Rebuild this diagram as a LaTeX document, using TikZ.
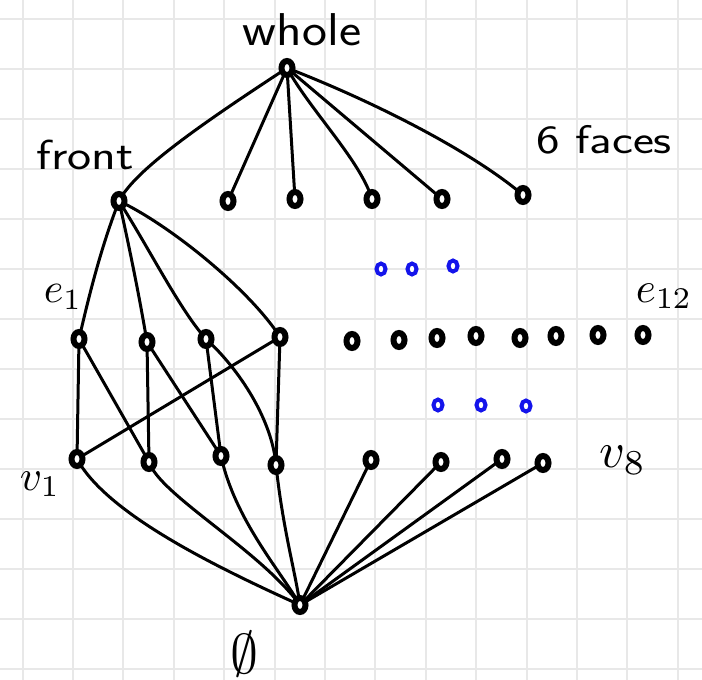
\documentclass[tikz,border=0pt]{standalone}
\usetikzlibrary{shapes.geometric}
\definecolor{gridgray}{RGB}{232,232,232}
\definecolor{inkblue}{RGB}{20,20,235}
\tikzset{
  gridline/.style={draw=gridgray, line width=2pt},
  dot/.style={ellipse, draw=black, fill=white, line width=6pt, minimum width=11pt, minimum height=14pt, inner sep=0pt},
  bdot/.style={ellipse, draw=inkblue, fill=white, line width=4pt, minimum width=9pt, minimum height=11pt, inner sep=0pt},
  ink/.style={draw=black, line width=3pt, line cap=round},
  lbl/.style={inner sep=0pt, font=\sffamily},
  mlbl/.style={inner sep=0pt},
}
\begin{document}
\begin{tikzpicture}[x=1pt, y=-1pt]
\useasboundingbox (0,0) rectangle (702,680);
\fill[white] (0,0) rectangle (702,680);
% grid
\foreach \k in {0,...,13} {
  \draw[gridline] ({22.6+50.4*\k},0) -- ({22.6+50.4*\k},680);
  \draw[gridline] (0,{19+50*\k}) -- (702,{19+50*\k});
}
% positions
\coordinate (W) at (287,68);
\coordinate (F) at (119,201);
\coordinate (f1) at (228,201);
\coordinate (f2) at (295,199);
\coordinate (f3) at (372,199);
\coordinate (f4) at (442,199);
\coordinate (f5) at (523,195);
\coordinate (e1) at (79,339);
\coordinate (e2) at (147,342);
\coordinate (e3) at (206,339);
\coordinate (e4) at (280,337);
\coordinate (v1) at (77,459);
\coordinate (v2) at (149,462);
\coordinate (v3) at (221,456);
\coordinate (v4) at (276,465);
\coordinate (v5) at (371,460);
\coordinate (v6) at (441,462);
\coordinate (v7) at (502,459);
\coordinate (v8) at (543,463);
\coordinate (E) at (300,605);
% whole -> faces
\draw[ink] (W) .. controls (200,125) and (135,170) .. (F);
\draw[ink] (W) -- (f1);
\draw[ink] (W) -- (f2);
\draw[ink] (W) .. controls (310,110) and (360,160) .. (f3);
\draw[ink] (W) -- (f4);
\draw[ink] (W) .. controls (370,100) and (470,150) .. (f5);
% front -> edges
\draw[ink] (F) .. controls (100,250) and (88,300) .. (e1);
\draw[ink] (F) .. controls (130,250) and (140,300) .. (e2);
\draw[ink] (F) .. controls (150,250) and (180,310) .. (e3);
\draw[ink] (F) .. controls (170,225) and (250,290) .. (e4);
% edges -> vertices
\draw[ink] (e1) -- (v1);
\draw[ink] (e1) -- (v2);
\draw[ink] (e2) -- (v2);
\draw[ink] (e2) -- (v3);
\draw[ink] (e3) -- (v3);
\draw[ink] (e3) .. controls (240,370) and (272,420) .. (v4);
\draw[ink] (e4) -- (v1);
\draw[ink] (e4) -- (v4);
% vertices -> empty
\draw[ink] (v1) .. controls (105,510) and (200,560) .. (E);
\draw[ink] (v2) .. controls (160,495) and (260,550) .. (E);
\draw[ink] (v3) .. controls (235,520) and (280,570) .. (E);
\draw[ink] (v4) .. controls (283,530) and (295,570) .. (E);
\draw[ink] (v5) -- (E);
\draw[ink] (v6) -- (E);
\draw[ink] (v7) -- (E);
\draw[ink] (v8) -- (E);
% nodes
\node[dot] (nW) at (W) {};
\node[dot] (nF) at (F) {};
\node[dot] (nf1) at (f1) {};
\node[dot] (nf2) at (f2) {};
\node[dot] (nf3) at (f3) {};
\node[dot] (nf4) at (f4) {};
\node[dot] (nf5) at (f5) {};
\node[dot] (ne1) at (e1) {};
\node[dot] (ne2) at (e2) {};
\node[dot] (ne3) at (e3) {};
\node[dot] (ne4) at (e4) {};
\node[dot] (ne5) at (352,341) {};
\node[dot] (ne6) at (399,340) {};
\node[dot] (ne7) at (437,338) {};
\node[dot] (ne8) at (476,336) {};
\node[dot] (ne9) at (520,338) {};
\node[dot] (ne10) at (556,336) {};
\node[dot] (ne11) at (598,335) {};
\node[dot] (ne12) at (643,335) {};
\node[bdot] (b1) at (381,269) {};
\node[bdot] (b2) at (412,269) {};
\node[bdot] (b3) at (453,266) {};
\node[bdot] (b4) at (438,405) {};
\node[bdot] (b5) at (481,405) {};
\node[bdot] (b6) at (526,406) {};
\node[dot] (nv1) at (v1) {};
\node[dot] (nv2) at (v2) {};
\node[dot] (nv3) at (v3) {};
\node[dot] (nv4) at (v4) {};
\node[dot] (nv5) at (v5) {};
\node[dot] (nv6) at (v6) {};
\node[dot] (nv7) at (v7) {};
\node[dot] (nv8) at (v8) {};
\node[dot] (nE) at (E) {};
% labels
\node[lbl, font=\sffamily\fontsize{46}{46}\selectfont] (lwhole) at (302,30) {\scalebox{1.15}[1]{whole}};
\node[lbl, font=\sffamily\fontsize{42}{42}\selectfont] (lfront) at (85,155) {\scalebox{1.22}[1]{front}};
\node[lbl, font=\sffamily\fontsize{40}{40}\selectfont] (lfaces) at (604,140) {\scalebox{1.25}[1]{6 faces}};
\node[mlbl] (le1) at (63,297) {\scalebox{4.2}{$e_1$}};
\node[mlbl] (le12) at (664,296) {\scalebox{4.3}{$e_{12}$}};
\node[mlbl] (lv1) at (40,484) {\scalebox{4.3}{$v_1$}};
\node[mlbl] (lv8) at (623,460) {\scalebox{5}{$v_8$}};
\node[mlbl] (lempty) at (244,654) {\scalebox{5.6}{$\emptyset$}};
\end{tikzpicture}
\end{document}
